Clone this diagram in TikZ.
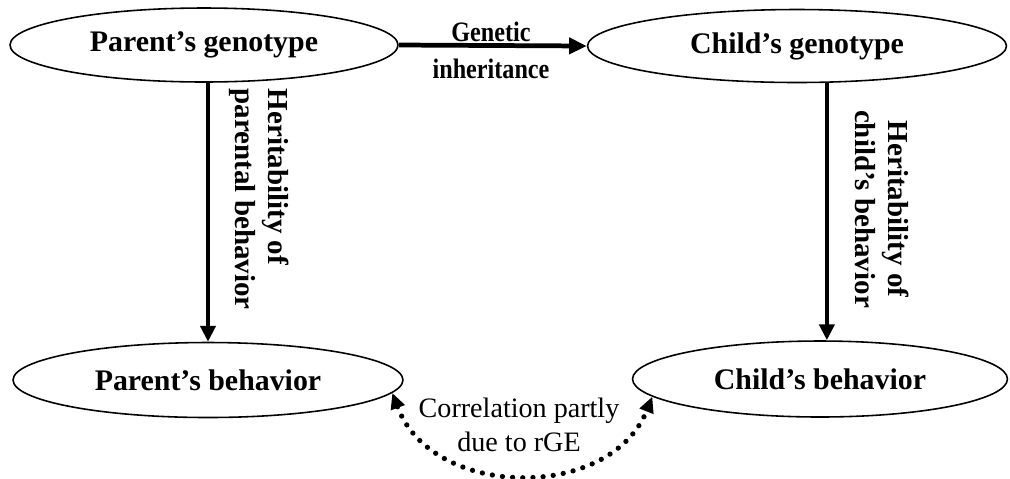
\documentclass[tikz,border=0pt]{standalone}
\usepackage{fontspec}
\setmainfont{Liberation Serif}
\newfontfamily\narrowserif[FakeStretch=0.86]{Liberation Serif}
\usetikzlibrary{shapes.geometric,arrows.meta}
\tikzset{
    every node/.style={ellipse, draw, line width=0.9pt, inner sep=0mm, font=\fontsize{17}{20}\selectfont\bfseries}
}
\tikzset{heavy/.style={line width=2.3pt, -{Triangle[length=9pt, width=8.5pt]}}}
\tikzset{corr/.style={line width=3pt, dash pattern=on 0pt off 5.8pt, line cap=round,
    {Triangle[length=9pt, width=8pt]}-{Triangle[length=9pt, width=8pt]}}}
\tikzset{caption/.style={shape=rectangle, draw=none, inner sep=0mm, align=center}}

\begin{document}
\begin{tikzpicture}[x=0.02cm, y=-0.02cm]
    \useasboundingbox (0,0) rectangle (1010,478);

    \node (pg) at (204,45) [minimum width=7.76cm, minimum height=1.48cm] {Parent's genotype};
    \node (cg) at (797,46) [minimum width=8.38cm, minimum height=1.46cm] {Child's genotype};
    \node (pb) at (208,380) [minimum width=7.8cm, minimum height=1.5cm] {Parent's behavior};
    \node (cb) at (820,379) [minimum width=7.5cm, minimum height=1.52cm] {Child's behavior};

    \node (gi) at (491,50) [caption, font=\fontsize{16}{21}\selectfont\narrowserif\bfseries] {Genetic\\inheritance};
    \node (hp) at (259,88) [caption, rotate=-90, anchor=west, align=left,
        font=\fontsize{16.5}{18.7}\selectfont\bfseries] {Heritability of\\parental behavior};
    \node (hc) at (882,209) [caption, rotate=-90,
        font=\fontsize{16.5}{18.7}\selectfont\bfseries] {Heritability of\\child's behavior};
    \node (rge) at (519,425) [caption, font=\fontsize{16}{19}\selectfont\mdseries] {Correlation partly\\due to rGE};

    \draw (pg.east) edge[heavy, line width=2.7pt, -{Triangle[length=10pt, width=9pt]}] (cg.west);
    \draw (pg.south -| pb.north) edge[heavy] (pb.north);
    \draw (cg.-51) edge[heavy] (cg.-51 |- cb.north);

    % rGE link below the picture
    \draw[corr] (pb.-4) .. controls +(40,107) and +(-42,105) .. (cb.-174);
\end{tikzpicture}
\end{document}
